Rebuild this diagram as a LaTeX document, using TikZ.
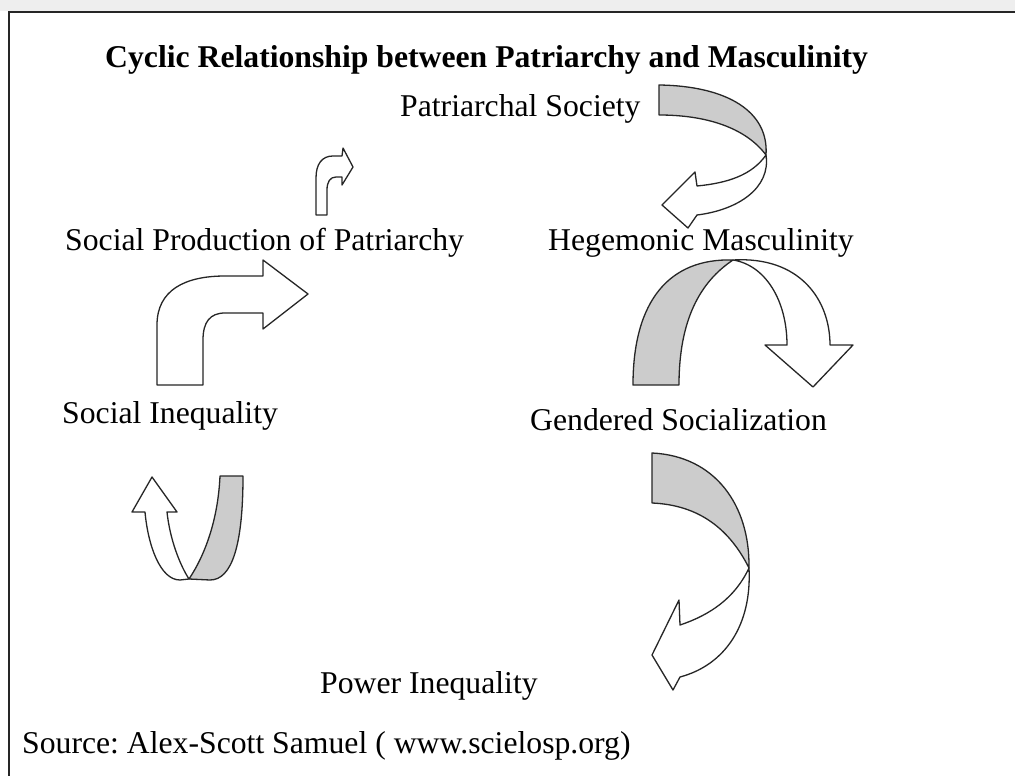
\documentclass[tikz,border=0pt]{standalone}
\usepackage{fontspec}
\setmainfont{Liberation Serif}
\frenchspacing
\definecolor{bandgray}{HTML}{CCCCCC}
\definecolor{stripgray}{HTML}{EEEEEE}
\tikzset{
  lbl/.style={anchor=base west, inner sep=0pt, font=\fontsize{31.7}{38}\selectfont},
  ttl/.style={anchor=base west, inner sep=0pt, font=\fontsize{31.7}{38}\selectfont\bfseries},
  backface/.style={draw=black!85, line width=1.3pt, fill=bandgray, line join=round},
  frontface/.style={draw=black!85, line width=1.3pt, fill=white, line join=round},
  framelinestyle/.style={draw=black!85, line width=2.5pt}
}
\begin{document}
\begin{tikzpicture}[x=1pt,y=-1pt]
\useasboundingbox (0,0) rectangle (1015,776);
\fill[white] (0,0) rectangle (1015,776);
\fill[stripgray] (0,0) rectangle (1015,11);
\draw[framelinestyle] (9,776) -- (9,12) -- (1015,12);

% texts
\node[ttl] (title) at (105,67) {Cyclic Relationship between Patriarchy and Masculinity};
\node[lbl] (ps) at (400,117) {Patriarchal Society};
\node[lbl] (hm) at (548,250) {Hegemonic Masculinity};
\node[lbl] (spp) at (65,250) {Social Production of Patriarchy};
\node[lbl] (gs) at (530,430) {Gendered Socialization};
\node[lbl] (si) at (62,423) {Social Inequality};
\node[lbl] (pi) at (320,693) {Power Inequality};
\node[lbl] (src) at (22,753) {Source: Alex-Scott Samuel ( www.scielosp.org)};

% arrow 1: Patriarchal Society -> Hegemonic Masculinity
\path[backface] (659,85) -- (659,115) .. controls (705,115) and (745,127) .. (766,155)
  .. controls (769,112) and (728,86) .. (659,85) -- cycle;
\path[frontface] (766,155) .. controls (752,175) and (728,183) .. (697,186)
  -- (695,172) -- (662,205) -- (688,228) -- (697,215)
  .. controls (738,210) and (771,188) .. (766,155) -- cycle;

% arrow 2: Hegemonic Masculinity -> Gendered Socialization
\path[backface] (633,385) -- (679,385) .. controls (679,320) and (700,282) .. (733,260)
  .. controls (670,258) and (633,300) .. (633,385) -- cycle;
\path[frontface] (733,260) .. controls (800,256) and (830,300) .. (830,345)
  -- (853,345) -- (813,387) -- (765,345) -- (787,345)
  .. controls (787,300) and (765,265) .. (733,260) -- cycle;

% arrow 3: Gendered Socialization -> Power Inequality
\path[backface] (652,453) -- (652,503) .. controls (700,505) and (730,530) .. (749,568)
  .. controls (750,505) and (715,456) .. (652,453) -- cycle;
\path[frontface] (749,568) .. controls (735,598) and (710,615) .. (680,625)
  -- (679,600) -- (652,655) -- (673,690) -- (680,677)
  .. controls (725,665) and (752,625) .. (749,568) -- cycle;

% arrow 4: U-turn near Social Inequality
\path[backface] (220,476) -- (243,476) .. controls (243,545) and (232,580) .. (210,580)
  -- (189,579) .. controls (205,555) and (218,520) .. (220,476) -- cycle;
\path[frontface] (189,579) .. controls (180,565) and (170,540) .. (167,512)
  -- (177,512) -- (152,477) -- (132,512) -- (145,512)
  .. controls (148,545) and (160,580) .. (180,580) -- cycle;

% arrow 5: large bent arrow
\path[frontface] (157,385) -- (157,325) .. controls (157,290) and (185,276) .. (225,276)
  -- (263,276) -- (263,260) -- (308,294) -- (263,329) -- (263,313) -- (225,313)
  .. controls (210,313) and (203,322) .. (203,340) -- (203,385) -- cycle;

% arrow 6: small bent arrow
\path[frontface] (316,215) -- (316,178) .. controls (316,164) and (322,156) .. (333,156)
  -- (342,156) -- (343,148) -- (353,167) -- (342,185) -- (342,177) -- (336,177)
  .. controls (330,177) and (327,182) .. (327,190) -- (327,215) -- cycle;
\end{tikzpicture}
\end{document}
